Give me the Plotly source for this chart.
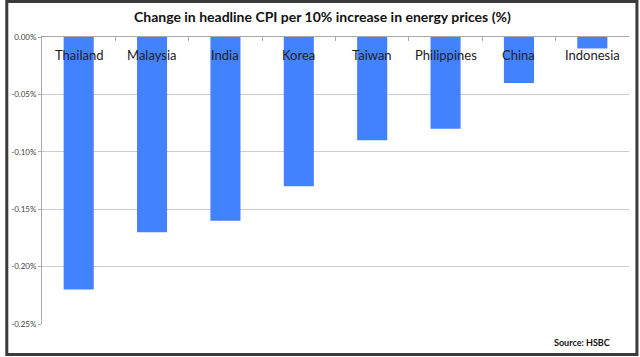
import plotly.graph_objects as go

categories = ["Thailand", "Malaysia", "India", "Korea", "Taiwan", "Philippines", "China", "Indonesia"]
values = [-0.22, -0.17, -0.16, -0.13, -0.09, -0.08, -0.04, -0.01]
tick_vals = [0, -0.05, -0.10, -0.15, -0.20, -0.25]
tick_text = ["0.00%", "-0.05%", "-0.10%", "-0.15%", "-0.20%", "-0.25%"]

W, H = 640, 357
L, R, T, B = 37, 11, 37, 33
pw, ph = W - L - R, H - T - B

def px_x(x):
    return (x - L) / pw

def px_y(y):
    return (H - B - y) / ph

fig = go.Figure()
fig.add_trace(go.Bar(x=categories, y=values, marker=dict(color="#4282FF", line=dict(width=0)),
                     width=0.41, showlegend=False))

for c in categories:
    fig.add_annotation(x=c, y=0, xref="x", yref="y", text=c, showarrow=False,
                       yanchor="middle", yshift=-18,
                       font=dict(family="Lato, Open Sans, sans-serif", size=13, color="#222222"))

fig.add_annotation(xref="paper", yref="paper", x=px_x(320), y=px_y(17), text="<b>Change in headline CPI per 10% increase in energy prices (%)</b>",
                   showarrow=False, xanchor="center", yanchor="middle",
                   font=dict(family="Lato, sans-serif", size=14, color="#111111"))
fig.add_annotation(xref="paper", yref="paper", x=px_x(612), y=px_y(342), text="<b>Source: HSBC</b>",
                   showarrow=False, xanchor="right", yanchor="middle",
                   font=dict(family="Lato, sans-serif", size=9, color="#111111"))

fig.add_shape(type="rect", xref="paper", yref="paper",
              x0=px_x(1.5), x1=px_x(637), y0=px_y(354.5), y1=px_y(1.5),
              line=dict(color="#3a3a3a", width=3), fillcolor="rgba(0,0,0,0)", layer="above")

fig.update_layout(
    width=W, height=H,
    margin=dict(l=L, r=R, t=T, b=B),
    paper_bgcolor="white", plot_bgcolor="white",
    bargap=0.59,
    hovermode=False,
    xaxis=dict(side="top", showticklabels=False, ticks="inside", ticklen=4, tickcolor="#aaaaaa",
               tickson="boundaries", showline=True, linecolor="#aaaaaa", linewidth=1,
               showgrid=False, zeroline=False, fixedrange=True),
    yaxis=dict(range=[-0.25, 0], tickvals=tick_vals, ticktext=tick_text,
               tickfont=dict(family="Lato, sans-serif", size=8, color="#444444"),
               showgrid=True, gridcolor="#cccccc", gridwidth=1,
               showline=True, linecolor="#aaaaaa", linewidth=1, ticks="outside", ticklen=3,
               tickcolor="#aaaaaa", zeroline=False, fixedrange=True),
)

fig.write_html("out.html", config={"displayModeBar": False, "staticPlot": True},
               post_script="document.body.style.margin='0';document.body.style.overflow='hidden';")
